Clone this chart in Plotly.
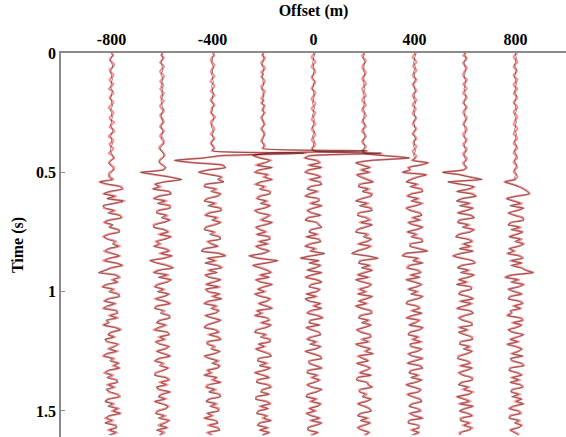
import numpy as np
import plotly.graph_objects as go

# Receiver offsets (m) and sample interval (s)
offsets = [-800, -600, -400, -200, 0, 200, 400, 600, 800]
dt = 0.01

# Trace amplitudes, one sample every 10 ms from 0 s (observed = black, modelled = red)
obs_m800 = [0,1,0,-1,0,1,1,0,-1,0, 0,1,0,0,-1,0,1,0,0,-1, 0,0,1,0,-1,0,0,1,0,0,
            -1,0,1,1,0,-1,0,0,1,0, -1,-1,0,1,2,0,-2,-1,1,2, 0,-2,-3,1,
            -12,-3,9,11,-2,-8,3,-5,12,4, -9,-6,2,-4,8,10,-1,-7,2,-3, 6,9,-2,-8,-5,3,1,7,-4,-6,
            2,8,-3,-7,5,11,-1,-5,-14,3, 8,2,6,-6,-9,1,-3,6,9,-2, -7,3,-5,-8,4,7,-1,5,-6,-2,
            -8,3,9,1,-4,2,-7,-3,6,4, -2,5,-6,-8,1,-2,7,3,8,-4, -6,0,-5,4,7,-3,2,-6,-1,5,
            8,-2,-7,1,-4,6,2,9,-3,-5, 0,-7,3,6,-2,4,-3]
mod_m800 = [0,2,-1,-2,1,3,1,-2,-1,2, 1,-2,-1,2,0,-3,1,2,-1,-2, 1,2,-1,-3,0,2,1,-2,-1,3,
            0,-2,2,3,-1,-3,1,2,-2,-1, 2,0,-3,1,3,-1,-3,0,3,2, -2,-3,-1,2,
            -13,-5,10,12,0,-9,5,-4,14,3, -8,-8,4,-2,9,11,-3,-8,0,-1, 8,7,-4,-9,-3,5,2,9,-2,-8,
            0,9,-1,-9,4,12,1,-7,-12,5, 9,0,7,-4,-10,3,-1,8,7,-4, -8,5,-3,-9,6,5,-3,7,-4,-4,
            -9,5,10,-1,-3,4,-6,-5,8,2, -4,7,-4,-9,3,0,8,1,9,-2, -8,2,-3,6,5,-5,4,-4,-3,7,
            9,-4,-6,3,-2,8,0,10,-1,-7, 2,-6,5,4,-4,6,-1]

obs_m600 = [0,0,1,0,-1,0,0,1,0,-1, 0,1,0,0,-1,1,0,0,1,0, -1,0,0,1,1,0,-1,0,0,1,
            0,-1,0,1,0,0,-1,1,2,0, -2,-1,1,2,1,-2,-3,0,3,2,
            -22,-6,8,20,4,-7,-3,-9,6,10, -2,-8,3,-5,7,9,-3,-6,4,-1, 8,2,-7,-9,1,6,-2,9,4,-5,
            -3,-8,2,7,-1,10,3,-12,-6,4, 11,-2,-8,5,-4,9,6,-3,-7,1, -5,7,3,-6,2,8,-4,-8,1,-2,
            6,9,-1,-6,3,-4,-7,5,8,-2, 2,-6,-3,7,4,-5,1,8,-4,-7, 0,-3,6,2,-5,-8,3,7,-1,4,
            -6,-2,8,1,-4,3,-7,-1,6,5, -3,-7,2,-4,7,4,-2,5,-6,1,-3]
mod_m600 = [1,-1,2,0,-2,1,2,-1,-2,1, 2,0,-2,1,1,-2,0,2,-1,-1, 2,0,-2,-1,2,1,-2,-1,1,2,
            -1,-2,1,2,-1,-2,1,2,1,-2, -3,0,2,3,0,-3,-2,1,4,1,
            -23,-8,9,21,2,-8,-1,-10,8,9, -4,-9,5,-3,9,7,-5,-5,6,1, 9,0,-9,-8,3,7,-4,10,2,-7,
            -1,-9,4,8,-3,11,1,-13,-4,6, 12,-4,-9,7,-2,10,4,-5,-8,3, -3,8,1,-8,4,9,-6,-7,3,0,
            8,7,-3,-5,5,-2,-9,6,7,-4, 4,-7,-1,8,2,-6,3,9,-2,-8, 2,-1,7,0,-7,-7,5,8,-3,6,
            -5,-4,9,-1,-3,5,-8,1,7,3, -5,-6,4,-2,8,2,-4,6,-4,3,-2]

obs_m400 = [0,1,0,0,-1,0,1,0,0,-1, 0,0,1,0,-1,0,0,1,0,0, -1,0,1,0,0,-1,0,1,1,0,
            -1,-1,0,1,0,0,1,0,-1,0, 1,0,
            95,8,-10,-39,-20,10,14,-4,
            -14,-3,9,5,12,-6,-9,3,-2,8, 6,-4,-9,2,-5,7,10,-2,-7,4, -1,8,3,-6,-9,1,-3,6,9,-4,
            -2,5,-8,-12,6,13,-5,2,-8,4, 9,-3,5,-7,-4,8,2,-6,6,-8, -3,7,1,9,-5,-8,3,-2,6,4,
            -7,-1,8,3,-5,-9,2,6,-3,5, 8,-4,-6,1,-2,7,3,-8,-4,5, -1,7,6,-5,-2,-8,4,1,8,-3,
            -6,2,-4,6,9,-2,-7,3,-3,5, 7,-5,-1,-8,2,6,-3,4,8,-4,-2]
mod_m400 = [1,2,-1,-2,0,2,1,-1,-2,1, 2,-1,-2,1,2,0,-2,1,2,-1, -2,1,2,-1,-1,-2,1,3,0,-2,
            -1,1,2,0,-2,1,2,-1,-2,1, 2,-1,
            98,12,-9,-40,-19,11,13,-5,
            -15,-1,10,7,11,-8,-8,5,0,9, 4,-6,-8,4,-3,9,8,-4,-8,6, 1,9,1,-7,-8,3,-1,8,7,-6,
            0,6,-9,-11,8,14,-6,4,-7,6, 10,-5,4,-8,-2,9,0,-7,8,-6, -5,8,-1,10,-3,-9,5,0,7,2,
            -8,1,9,1,-6,-8,4,7,-5,6, 9,-6,-4,3,0,8,1,-9,-2,7, 1,8,4,-6,0,-9,5,-1,9,-5,
            -7,4,-3,8,7,-4,-6,5,-1,7, 5,-6,1,-9,4,5,-5,6,7,-6,0]

obs_m200 = [0,0,1,0,0,-1,0,1,0,0, -1,0,0,1,0,-1,0,0,1,0, 0,-1,1,0,0,1,0,-1,0,0,
            1,0,-1,0,1,1,0,-1,0,1, 0,
            108,6,-10,-4,7,3,-6,9,-5,
            -8,4,2,9,-3,-7,1,-4,6,8, -2,-6,3,-3,7,2,-8,-5,6,4, -1,9,3,-7,-4,2,-6,5,8,-3,
            4,-7,-3,6,1,-14,-6,15,4,-10, -4,3,8,-2,6,-7,-3,9,2,-5, 1,-8,-3,7,5,-4,2,9,-6,-2,
            -8,3,6,-1,8,4,-5,-9,2,-3, 6,8,-4,1,-7,-2,5,9,-3,-6, 3,-4,7,2,-8,-1,6,-5,-7,4,
            8,1,-3,6,-6,-8,2,7,-2,5, -4,-7,3,1,8,-2,-6,4,-3,6,-1]
mod_m200 = [1,-1,2,1,-2,-1,2,1,-2,0, -2,1,2,0,-2,-1,2,1,0,-2, 1,-2,2,1,-1,2,0,-2,-1,1,
            2,-1,-2,1,2,0,-1,-2,1,2, -1,
            110,5,-11,-2,9,1,-8,10,-3,
            -9,6,0,10,-1,-9,3,-2,8,6, -4,-7,5,-1,8,0,-9,-3,8,2, -3,10,1,-8,-2,4,-7,7,6,-5,
            6,-8,-1,7,-1,-15,-4,16,2,-11, -2,5,9,-4,7,-8,-1,10,0,-6, 3,-9,-1,8,3,-5,4,10,-7,0,
            -9,5,7,-3,9,2,-7,-8,4,-1, 8,6,-5,3,-8,0,7,8,-5,-5, 5,-3,8,0,-9,1,7,-6,-6,6,
            9,-1,-1,7,-7,-7,4,8,-4,6, -5,-6,5,-1,9,-4,-5,6,-4,7,0]

obs_0 = [0,1,0,0,-1,0,0,1,0,0, -1,0,1,0,0,-1,0,0,1,0, 0,-1,0,1,0,0,-1,0,1,0,
         0,-1,0,1,0,-1,0,1,0,0, -1,0,
         70,-3,-9,2,6,-4,8,-6,
         -8,1,7,-3,5,9,-2,-7,3,-5, -8,4,6,-2,8,1,-6,-3,7,-4, -9,2,5,9,-1,-5,3,-7,4,8,
         -2,-8,1,-4,12,-2,-13,5,-5,7, 3,-6,8,-3,-8,2,9,-1,-5,6, 4,-7,2,-9,-3,7,1,8,-4,-6,
         3,9,-2,-5,6,-7,-3,5,8,-1, -6,2,-4,7,3,-8,-2,6,9,-3, -5,1,8,-4,-7,3,-1,6,2,-6,
         -3,8,4,-5,-8,2,-2,7,5,-4, 1,-7,-3,6,-2,8,3,-5,-6,4,-1]
mod_0 = [2,-1,-2,1,2,-1,-2,1,2,0, -2,-1,2,1,-1,-2,1,2,0,-2, -1,2,1,-2,-1,2,1,-1,-2,1,
         2,-1,-2,0,2,1,-2,-1,2,1, -2,1,
         72,-4,-10,4,7,-6,9,-4,
         -9,3,8,-5,7,8,-4,-6,5,-3, -9,6,5,-4,9,-1,-7,-1,8,-6, -8,4,6,8,-3,-4,5,-8,6,7,
         -4,-9,3,-2,11,-3,-14,6,-3,8, 1,-7,9,-1,-9,4,8,-3,-4,7, 2,-8,4,-8,-5,8,-1,9,-2,-7,
         5,10,-4,-4,7,-8,-1,6,7,-3, -7,4,-2,8,1,-9,0,7,8,-5, -4,3,9,-6,-6,5,-3,7,0,-7,
         -1,9,2,-6,-7,4,-4,8,3,-5, 3,-8,-1,7,-4,9,1,-6,-5,5,-3]

obs_p200 = [0,0,-1,0,1,0,0,-1,0,1, 0,0,-1,0,0,1,0,-1,0,0, 1,0,0,-1,0,1,0,0,-1,0,
            1,0,-1,0,0,1,0,-1,0,1, 0,-1,0,
            20,47,8,-8,-3,6,-2,
            5,-7,-4,2,9,-3,-6,4,-2,7, 8,-1,-8,3,-5,6,9,-4,-7,1, 5,-3,8,2,-6,-9,3,-1,7,4,
            -5,6,2,-7,-13,3,14,-2,-6,5, -3,8,2,-6,4,-8,-2,7,5,-4, 1,-6,8,3,-5,2,-8,-3,6,9,
            -2,-6,4,-3,7,1,-7,-4,5,8, -1,4,-8,-3,6,2,9,-5,-2,4, -7,-1,6,3,-4,7,-6,-8,2,5,
            8,-3,-5,1,-2,7,3,-6,-1,5, 8,-2,-7,3,-4,6,1,-6,-3,5,2]
mod_p200 = [1,-2,-1,2,1,-1,-2,0,2,1, -1,-2,1,2,0,-2,-1,1,2,-1, -2,1,2,-1,-2,0,2,1,-1,-2,
            1,2,-1,-2,1,2,0,-2,-1,2, 1,-2,1,
            22,48,7,-9,-1,7,-4,
            7,-8,-2,4,10,-5,-5,6,-1,9, 6,-3,-9,5,-3,8,7,-6,-6,3, 7,-5,9,0,-7,-8,5,1,8,2,
            -7,8,0,-8,-12,4,15,-4,-5,7, -1,9,0,-7,6,-9,0,8,3,-6, 3,-7,9,1,-6,4,-9,-1,8,7,
            -4,-5,6,-1,8,-1,-8,-2,7,6, -3,6,-9,-1,7,0,10,-7,0,5, -8,1,7,1,-5,8,-7,-7,4,4,
            9,-5,-4,3,-1,8,1,-7,1,6, 7,-4,-6,5,-3,7,-1,-7,-1,6,0]

obs_p400 = [0,1,0,0,-1,0,1,0,-1,0, 0,1,0,-1,0,0,1,0,0,-1, 0,1,0,0,-1,0,0,1,0,-1,
            0,0,1,0,-1,0,1,0,0,-1, 0,1,0,-1,1,-2,
            14,6,-6,-5,
            -12,12,4,-3,-9,2,-5,6,9,-2, -7,3,-4,7,2,-8,-5,4,8,-1, 5,-6,-2,8,3,-7,1,-4,6,9,
            -3,-5,4,13,-10,-12,3,-2,8,-4, -7,2,6,-3,5,-8,-1,7,3,-6, 2,-4,8,4,-6,-9,1,5,-2,7,
            -3,-8,4,2,-5,8,6,-4,-7,3, -1,6,-5,-2,7,4,-6,-3,8,1, -7,4,9,-2,-6,3,-4,7,2,-8,
            -2,6,5,-7,-3,4,8,-1,-6,2, 6,-4,-1,8,-5,-7,3,5,-2,4,-3]
mod_p400 = [2,-1,-2,1,2,-1,-1,2,1,-2, -1,2,1,-2,-1,1,2,-1,-2,1, 2,-1,-2,1,1,-2,-1,2,1,-1,
            -2,1,2,-1,-2,1,2,-1,-1,2, 1,-2,-1,2,1,-3,
            15,5,-7,-4,
            -13,13,2,-4,-8,4,-3,8,8,-4, -8,5,-2,9,0,-9,-3,6,7,-3, 7,-7,0,9,1,-8,3,-2,8,8,
            -5,-4,6,14,-9,-13,5,-1,9,-6, -8,4,7,-5,6,-9,1,8,1,-7, 4,-3,9,2,-7,-8,3,6,-4,8,
            -1,-9,6,0,-6,9,4,-5,-6,5, -3,8,-4,-4,8,2,-7,-1,9,-1, -8,6,8,-4,-5,5,-3,8,0,-9,
            0,7,3,-8,-1,6,7,-3,-5,4, 7,-6,1,9,-6,-6,5,4,-4,5,-1]

obs_p600 = [0,0,1,0,-1,0,0,1,0,0, -1,0,1,0,0,-1,0,0,1,0, 0,-1,0,1,0,0,-1,0,1,0,
            -1,0,0,1,0,-1,0,1,0,-1, 0,1,0,-1,0,1,-1,0,1,-1,
            -23,-6,5,17,-18,-4,9,3,-8,6, 11,-2,-9,4,-6,8,2,-7,5,10, -4,-8,3,-3,9,6,-5,-10,2,7,
            -1,5,-6,8,-3,-12,-4,7,10,-2, -8,3,-5,9,4,-6,1,-9,5,7, -3,-7,2,8,-4,6,-2,-8,4,9,
            1,-6,-3,5,8,-5,2,-7,-1,6, 8,-3,-6,4,-2,7,3,-5,-8,1, 5,-4,7,2,-6,-3,6,8,-2,-7,
            3,-1,7,5,-8,-2,4,-5,8,1, -6,2,7,-3,-5,4,-1,6,5,-4,-6]
mod_p600 = [1,-2,2,1,-2,-1,2,1,-1,-2, -1,2,1,-2,0,2,-1,-2,1,2, -1,-2,1,2,-1,-2,0,2,1,-1,
            -2,1,2,0,-2,-1,2,1,-2,-1, 2,1,-2,-1,2,1,-2,-1,2,-2,
            -24,-5,6,18,-17,-5,10,5,-9,8, 12,-4,-8,6,-4,9,0,-8,7,9, -6,-7,5,-1,10,4,-7,-9,4,8,
            -3,7,-5,9,-5,-13,-2,8,11,-4, -7,5,-3,10,2,-7,3,-8,7,6, -5,-6,4,9,-6,8,0,-9,6,8,
            -1,-7,-1,7,7,-7,4,-6,1,8, 7,-5,-5,6,0,8,1,-7,-7,3, 6,-6,8,0,-7,-1,8,7,-4,-6,
            5,-3,9,3,-9,0,6,-7,9,-1, -5,4,8,-5,-4,6,-3,8,3,-6,-4]

obs_p800 = [0,0,1,0,0,-1,0,1,0,0, -1,0,0,1,0,0,-1,0,1,0, 0,-1,0,0,1,0,-1,0,0,1,
            0,0,-1,0,1,0,0,-1,0,1, 0,-1,0,1,0,-1,0,1,0,-1, 0,1,-1,0,
            -11,-4,3,8,12,14,
            2,-9,-3,5,-6,8,3,-7,-2,6, 9,-3,-8,4,-5,7,2,-6,5,-1, 8,4,-6,-2,-8,3,7,-4,6,-5,
            5,10,18,-3,-10,2,-5,8,4,-7, -2,6,-4,-8,3,7,-1,5,-6,-3, -8,4,7,-2,6,2,-7,-4,8,3,
            -5,2,-8,-1,6,4,-3,7,-6,-2, 5,8,-4,-7,1,6,-3,3,-6,4, 7,-2,-5,3,-4,6,1,8,-3,-6,
            2,5,-4,-7,3,-1,6,4,-5,-2,3]
mod_p800 = [2,-1,-2,1,2,-1,-2,1,1,-2, -1,2,1,-2,-1,2,0,-2,1,2, -1,-2,1,2,-1,-2,1,2,0,-1,
            -2,1,2,-1,-2,1,2,-1,-2,1, 2,-1,-2,1,2,-1,-2,1,2,-1, -2,1,2,-1,
            -12,-3,4,9,13,15,
            0,-10,-1,7,-4,9,1,-8,0,8, 8,-5,-7,6,-3,8,0,-7,7,1, 9,2,-7,0,-9,5,8,-6,7,-3,
            7,11,19,-4,-11,4,-3,9,2,-8, 0,7,-6,-7,5,8,-3,6,-4,-5, -9,6,8,-4,7,0,-8,-2,9,1,
            -6,4,-9,1,7,2,-5,8,-4,-4, 7,9,-6,-6,3,7,-5,5,-5,6, 8,-4,-4,5,-2,7,-1,9,-1,-7,
            4,6,-6,-6,5,0,7,2,-6,0,4]

observed = [obs_m800, obs_m600, obs_m400, obs_m200, obs_0, obs_p200, obs_p400, obs_p600, obs_p800]
modelled = [mod_m800, mod_m600, mod_m400, mod_m200, mod_0, mod_p200, mod_p400, mod_p600, mod_p800]

# Wiggle gain: metres of horizontal deflection per amplitude unit
GAIN = 3.8

fig = go.Figure()

def add_trace_line(off, amps, color, width):
    a = np.asarray(amps, dtype=float)
    t = np.arange(len(a)) * dt
    fig.add_trace(go.Scatter(
        x=off + GAIN * a, y=t, mode="lines",
        line=dict(color=color, width=width, shape="spline", smoothing=0.5),
        hoverinfo="skip", showlegend=False,
    ))

# modelled traces as a light red band underneath, observed traces as a thin dark line on top
for off, amps in zip(offsets, modelled):
    add_trace_line(off, amps, "rgba(255,0,0,0.45)", 2.0)
for off, amps in zip(offsets, observed):
    add_trace_line(off, amps, "rgba(40,40,40,0.7)", 0.8)

font_family = "Liberation Serif, Times New Roman, serif"
axis_grey = "#8a8a8a"
xticks = [-800, -400, 0, 400, 800]
yticks = [0, 0.5, 1, 1.5]

fig.update_layout(
    width=566, height=437,
    margin=dict(l=61, r=0, t=53, b=0),
    paper_bgcolor="white", plot_bgcolor="white",
    font=dict(family=font_family, size=16, color="black"),
    xaxis=dict(
        side="top", range=[-1000, 1000],
        tickvals=xticks, ticktext=[f"<b>{v}</b>" for v in xticks],
        ticks="", showgrid=False, zeroline=False,
        showline=True, linecolor=axis_grey, linewidth=1.5,
        tickfont=dict(family=font_family, size=16, color="black"),
        title=dict(text="<b>Offset (m)</b>", standoff=10,
                   font=dict(family=font_family, size=16, color="black")),
    ),
    yaxis=dict(
        range=[1.609, 0],
        tickvals=yticks, ticktext=[f"<b>{v:g}</b>" for v in yticks],
        ticks="inside", ticklen=4, tickcolor=axis_grey, tickwidth=1,
        showgrid=False, zeroline=False,
        showline=True, linecolor=axis_grey, linewidth=1.5,
        tickfont=dict(family=font_family, size=16, color="black"),
        title=dict(text="<b>Time (s)</b>", standoff=8,
                   font=dict(family=font_family, size=16, color="black")),
    ),
)

fig.write_html("out.html")
